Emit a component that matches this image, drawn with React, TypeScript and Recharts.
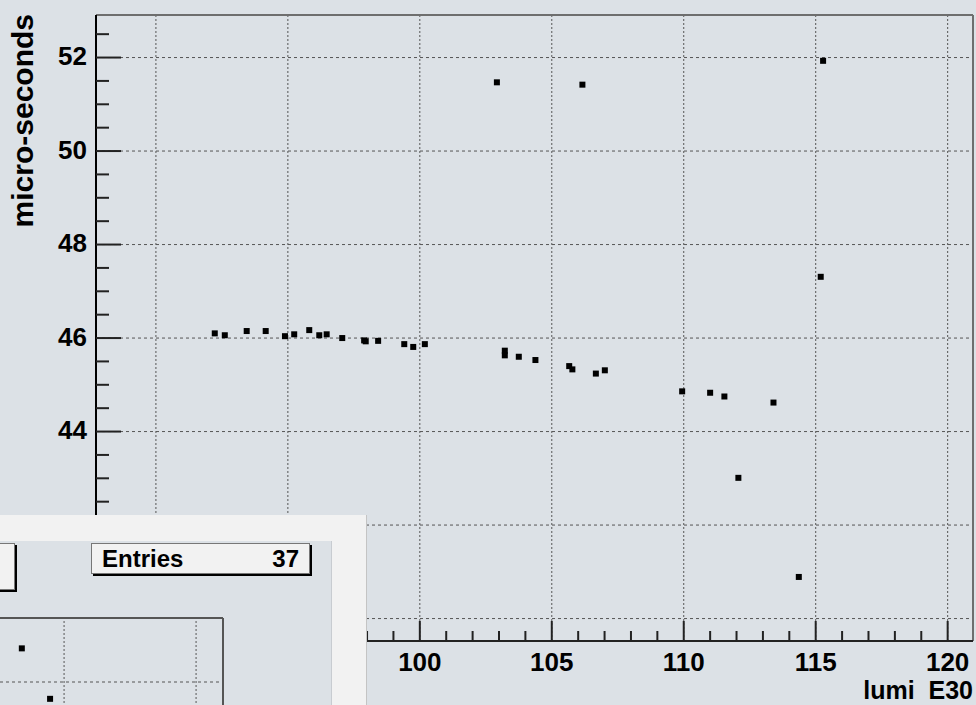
import React from 'react';
import { ScatterChart, Scatter, XAxis, YAxis, ReferenceLine } from 'recharts';

// values (lumi in E30, time in micro-seconds)
const lumiValues = [
  92.23, 92.61, 93.44, 94.16, 94.89, 95.24, 95.81, 96.19, 96.47, 97.06, 97.89, 97.95,
  98.42, 99.41, 99.75, 100.19, 103.22, 103.22, 103.75, 104.38, 105.66, 105.78, 106.67,
  107.01, 109.94, 111.0, 111.54, 113.4, 112.07, 114.36, 102.92, 106.16, 115.28, 115.19,
];
const microSeconds = [
  46.1, 46.06, 46.15, 46.15, 46.04, 46.08, 46.17, 46.06, 46.08, 46.0, 45.95, 45.93,
  45.94, 45.87, 45.81, 45.87, 45.73, 45.63, 45.6, 45.53, 45.4, 45.33, 45.24,
  45.31, 44.86, 44.83, 44.75, 44.62, 43.01, 40.89, 51.47, 51.42, 51.93, 47.31,
];

// the small window lying over the bottom-left corner
const insetLumi = [113.4, 114.47];
const insetMicro = [52.72, 51.64];

const xTicks = [
  88, 89, 90, 91, 92, 93, 94, 95, 96, 97, 98, 99, 100, 101, 102, 103, 104, 105, 106,
  107, 108, 109, 110, 111, 112, 113, 114, 115, 116, 117, 118, 119, 120,
];
const xLabels = [90, 95, 100, 105, 110, 115, 120];
const yTicks = [
  40, 40.5, 41, 41.5, 42, 42.5, 43, 43.5, 44, 44.5, 45, 45.5, 46, 46.5, 47, 47.5, 48,
  48.5, 49, 49.5, 50, 50.5, 51, 51.5, 52, 52.5,
];
const yLabels = [40, 42, 44, 46, 48, 50, 52];

const X_DOMAIN: [number, number] = [87.73, 120.96];
const Y_DOMAIN: [number, number] = [39.52, 52.91];
const INSET_X_DOMAIN: [number, number] = [101.21, 121.02];
const INSET_Y_DOMAIN: [number, number] = [47.27, 53.37];

const points = lumiValues.map((lumi, i) => ({ lumi, us: microSeconds[i] }));
const insetPoints = insetLumi.map((lumi, i) => ({ lumi, us: insetMicro[i] }));

const BG = '#dce1e6';
const FONT = '"Liberation Sans", Arial, Helvetica, sans-serif';

const Square = (props: any) => {
  const { cx, cy } = props;
  if (cx == null || cy == null) return null;
  return <rect x={cx - 3} y={cy - 3} width={6} height={6} fill="#000" />;
};

const YTick = (props: any) => {
  const { x, y, payload } = props;
  const axisX = x; // tickSize 0, tickMargin 0
  const major = yLabels.includes(payload.value);
  return (
    <g>
      <line x1={axisX} x2={axisX + (major ? 25 : 13)} y1={y} y2={y} stroke="#222" strokeWidth={2} />
      {major && (
        <text x={axisX - 9} y={y} dy="0.3em" textAnchor="end" fontFamily={FONT} fontWeight="bold" fontSize={26} fill="#000">
          {payload.value}
        </text>
      )}
    </g>
  );
};

const XTick = (props: any) => {
  const { x, y, payload } = props;
  const major = xLabels.includes(payload.value);
  return (
    <g>
      <line x1={x} x2={x} y1={y} y2={y - (major ? 20 : 10)} stroke="#222" strokeWidth={2} />
      {major && (
        <text x={x} y={y + 30} textAnchor="middle" fontFamily={FONT} fontWeight="bold" fontSize={26} fill="#000">
          {payload.value}
        </text>
      )}
    </g>
  );
};

const YTitle = (props: any) => {
  const { viewBox } = props;
  if (!viewBox) return null;
  return (
    <text
      transform={`translate(${viewBox.x + 33},${viewBox.y - 1}) rotate(-90)`}
      textAnchor="end"
      fontFamily={FONT}
      fontWeight="bold"
      fontSize={30}
      fill="#000"
    >
      micro-seconds
    </text>
  );
};

const XTitle = (props: any) => {
  const { viewBox } = props;
  if (!viewBox) return null;
  return (
    <text
      x={viewBox.x + viewBox.width}
      y={viewBox.y + 58}
      textAnchor="end"
      fontFamily={FONT}
      fontWeight="bold"
      fontSize={25}
      fill="#000"
      style={{ whiteSpace: 'pre' }}
    >
      {'lumi  E30'}
    </text>
  );
};

const MainChart = () => (
  <ScatterChart width={976} height={705} margin={{ top: 15, right: 3, bottom: 0, left: 0 }}>
    {yLabels.map((v) => (
      <ReferenceLine key={`h${v}`} y={v} stroke="#555" strokeDasharray="3 3" strokeWidth={1} />
    ))}
    {xLabels.map((v) => (
      <ReferenceLine key={`v${v}`} x={v} stroke="#555" strokeDasharray="2 2" strokeWidth={1} />
    ))}
    <ReferenceLine y={Y_DOMAIN[1]} stroke="#6e6e6e" strokeWidth={2} />
    <ReferenceLine x={X_DOMAIN[1]} stroke="#6e6e6e" strokeWidth={2} />
    <XAxis
      type="number"
      dataKey="lumi"
      domain={X_DOMAIN}
      ticks={xTicks}
      interval={0}
      height={64}
      tickSize={0}
      tickMargin={0}
      tickLine={false}
      axisLine={{ stroke: '#222', strokeWidth: 2 }}
      tick={<XTick />}
      allowDataOverflow
      label={<XTitle />}
    />
    <YAxis
      type="number"
      dataKey="us"
      domain={Y_DOMAIN}
      ticks={yTicks}
      interval={0}
      width={96}
      tickSize={0}
      tickMargin={0}
      tickLine={false}
      axisLine={{ stroke: '#000', strokeWidth: 2 }}
      tick={<YTick />}
      allowDataOverflow
      label={<YTitle />}
    />
    <Scatter data={points} shape={<Square />} isAnimationActive={false} />
  </ScatterChart>
);

const InsetChart = () => (
  <ScatterChart width={525} height={300} margin={{ top: 15, right: 2, bottom: 0, left: 0 }}>
    <XAxis type="number" dataKey="lumi" domain={INSET_X_DOMAIN} hide allowDataOverflow />
    <YAxis type="number" dataKey="us" domain={INSET_Y_DOMAIN} hide allowDataOverflow />
    {[110, 115, 120].map((v) => (
      <ReferenceLine key={`iv${v}`} x={v} stroke="#555" strokeDasharray="2 2" strokeWidth={1} />
    ))}
    {[48, 50, 52].map((v) => (
      <ReferenceLine key={`ih${v}`} y={v} stroke="#555" strokeDasharray="3 3" strokeWidth={1} />
    ))}
    <ReferenceLine y={INSET_Y_DOMAIN[1]} stroke="#555" strokeWidth={2} />
    <ReferenceLine x={INSET_X_DOMAIN[1]} stroke="#555" strokeWidth={2} />
    <Scatter data={insetPoints} shape={<Square />} isAnimationActive={false} />
  </ScatterChart>
);

const App = () => (
  <div
    style={{
      position: 'fixed',
      left: 0,
      top: 0,
      width: 976,
      height: 705,
      overflow: 'hidden',
      background: BG,
      fontFamily: FONT,
    }}
  >
    <MainChart />
    {/* window over the bottom-left corner */}
    <div
      style={{
        position: 'absolute',
        left: 0,
        top: 515,
        width: 367,
        height: 190,
        background: '#f2f2f2',
        borderRight: '1px solid #c4c4c4',
        boxSizing: 'border-box',
      }}
    />
    <div
      style={{
        position: 'absolute',
        left: 0,
        top: 541,
        width: 332,
        height: 164,
        background: BG,
        borderRight: '1px solid #c8ccd1',
        boxSizing: 'border-box',
        overflow: 'hidden',
      }}
    >
      <div style={{ position: 'absolute', left: -300, top: 62 }}>
        <InsetChart />
      </div>
      <div
        style={{
          position: 'absolute',
          left: -4,
          top: 2,
          width: 17,
          height: 45,
          background: '#f2f2f2',
          border: '1px solid #777',
          boxShadow: '2px 2px 0 #000',
        }}
      />
      <div
        style={{
          position: 'absolute',
          left: 91,
          top: 2,
          width: 219,
          height: 31,
          background: '#f2f2f2',
          border: '1px solid #777',
          boxShadow: '2px 2px 0 #000',
          display: 'flex',
          justifyContent: 'space-between',
          alignItems: 'center',
          padding: '0 10px 0 10px',
          boxSizing: 'border-box',
          fontWeight: 'bold',
          fontSize: 24,
          color: '#000',
        }}
      >
        <span>Entries</span>
        <span>37</span>
      </div>
    </div>
  </div>
);

export default App;
